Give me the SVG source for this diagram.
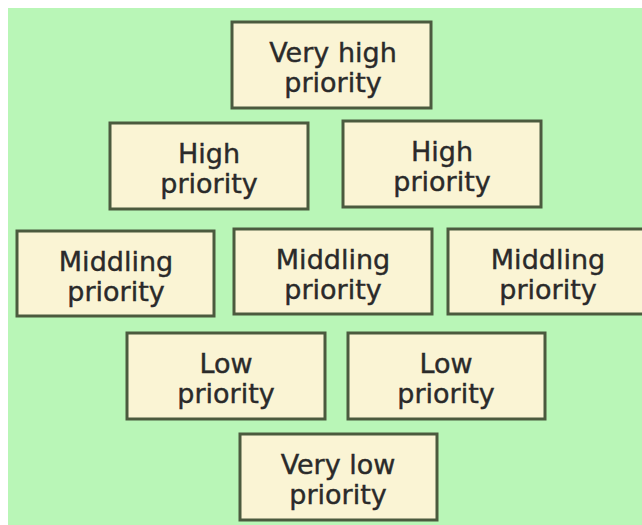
<svg xmlns="http://www.w3.org/2000/svg" width="642" height="525" viewBox="0 0 642 525">
<style>
.box{fill:#faf4d4;stroke:#4b5a3e;stroke-width:3}
.t{font-family:"DejaVu Sans",Verdana,sans-serif;font-size:27px;fill:#2a2a2a;text-anchor:middle;stroke:#2a2a2a;stroke-width:0.4}
</style>
<rect x="0" y="0" width="642" height="525" fill="#ffffff"/>
<rect x="8" y="8" width="634" height="517" fill="#b9f6b7"/>
<g id="connectors"></g>
<g id="very-high">
<rect class="box" x="232" y="22" width="199" height="86"/>
<text class="t"><tspan x="333" y="62">Very high</tspan><tspan x="333" y="92">priority</tspan></text>
</g>
<g id="high-1">
<rect class="box" x="110" y="123" width="198" height="86"/>
<text class="t"><tspan x="209" y="163">High</tspan><tspan x="209" y="193">priority</tspan></text>
</g>
<g id="high-2">
<rect class="box" x="343" y="121" width="198" height="86"/>
<text class="t"><tspan x="442" y="161">High</tspan><tspan x="442" y="191">priority</tspan></text>
</g>
<g id="middling-1">
<rect class="box" x="17" y="231" width="197" height="85"/>
<text class="t"><tspan x="116" y="271">Middling</tspan><tspan x="116" y="301">priority</tspan></text>
</g>
<g id="middling-2">
<rect class="box" x="234" y="229" width="198" height="85"/>
<text class="t"><tspan x="333" y="269">Middling</tspan><tspan x="333" y="299">priority</tspan></text>
</g>
<g id="middling-3">
<rect class="box" x="448" y="229" width="197" height="85"/>
<text class="t"><tspan x="548" y="269">Middling</tspan><tspan x="548" y="299">priority</tspan></text>
</g>
<g id="low-1">
<rect class="box" x="127" y="333" width="198" height="86"/>
<text class="t"><tspan x="226" y="373">Low</tspan><tspan x="226" y="403">priority</tspan></text>
</g>
<g id="low-2">
<rect class="box" x="348" y="333" width="197" height="86"/>
<text class="t"><tspan x="446" y="373">Low</tspan><tspan x="446" y="403">priority</tspan></text>
</g>
<g id="very-low">
<rect class="box" x="240" y="434" width="197" height="86"/>
<text class="t"><tspan x="338" y="474">Very low</tspan><tspan x="338" y="504">priority</tspan></text>
</g>
</svg>
